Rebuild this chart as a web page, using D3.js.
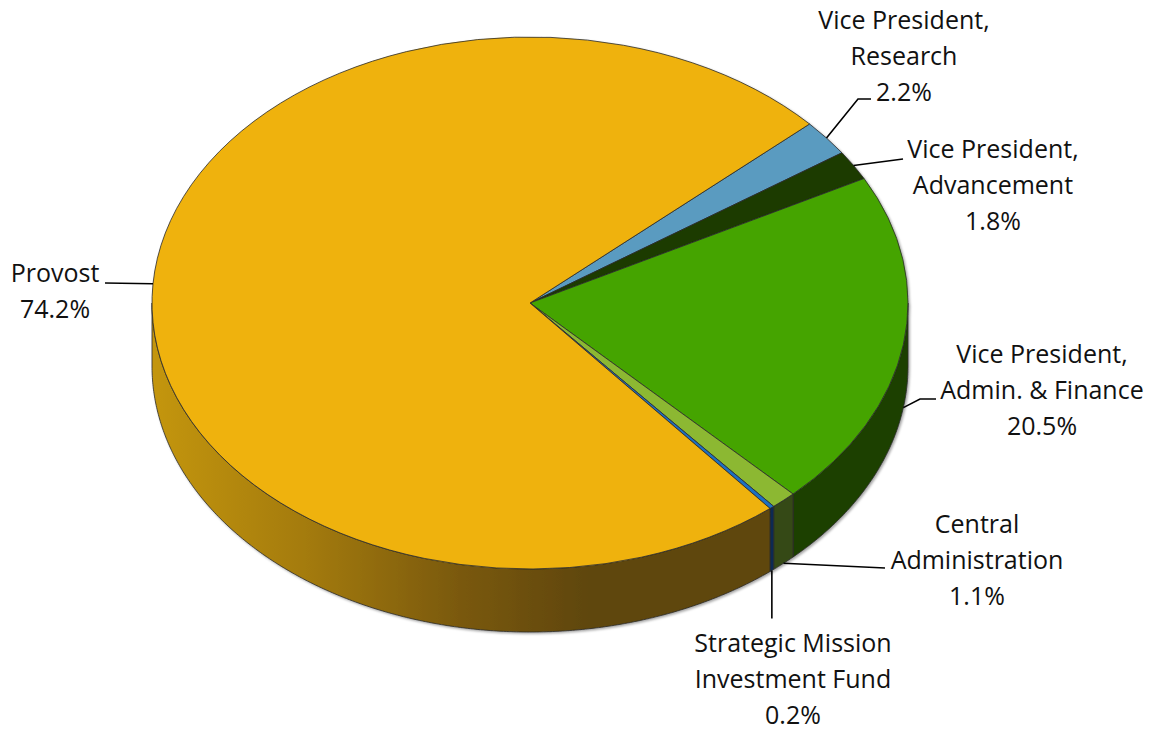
<!DOCTYPE html>
<html>
<head>
<meta charset="utf-8">
<script src="https://cdn.jsdelivr.net/npm/d3@7"></script>
<style>
  html, body { margin: 0; padding: 0; background: #ffffff; }
  svg { display: block; }
  text { font-family: "Open Sans", "Noto Sans", sans-serif; fill: #111; }
</style>
</head>
<body>
<svg id="chart" width="1158" height="730"></svg>
<script>
// Budget allocation by division, in percent, listed clockwise from the first slice
const categories = [
  ["Vice President,", "Research"],
  ["Vice President,", "Advancement"],
  ["Vice President,", "Admin. & Finance"],
  ["Central", "Administration"],
  ["Strategic Mission", "Investment Fund"],
  ["Provost"]
];
const shares = [2.2, 1.8, 20.5, 1.1, 0.2, 74.2];

// Slice fills for the top face and the outer rim
const topColors  = ["#5a9bc0", "#1b3a03", "#45a400", "#8cb832", "#1f6fc2", "#efb210"];
const wallColors = ["#3d6f8a", "#142c02", "#1c4000", "#344a18", "#0b2a52", "url(#rimGold)"];

// Label placement: centre x of the text block, first baseline, and leader waypoints
const labelLayout = [
  { x: 904,  y: 29,  leader: [[858, 99], [871, 99]] },
  { x: 993,  y: 158, leader: [[903, 159]] },
  { x: 1042, y: 363, leader: [[920, 399], [936, 399]] },
  { x: 977,  y: 533, leader: [[885, 568]] },
  { x: 793,  y: 652, leader: "down" },
  { x: 55,   y: 282, leader: [[105, 283]] }
];

const svg = d3.select("#chart");

// Tilted disc geometry
const cx = 530, cy = 303, rx = 378, ry = 266, depth = 63;
const startAngle = 47.7 * Math.PI / 180;
const lineH = 36;

const pie = d3.pie().sort(null).value(d => d)
  .startAngle(startAngle).endAngle(startAngle + 2 * Math.PI);
const arcs = pie(shares);

const pt = (a, dy = 0) => [cx + rx * Math.sin(a), cy - ry * Math.cos(a) + dy];

const defs = svg.append("defs");
const grad = defs.append("linearGradient")
  .attr("id", "rimGold").attr("gradientUnits", "userSpaceOnUse")
  .attr("x1", cx - rx).attr("x2", cx + 60).attr("y1", 0).attr("y2", 0);
grad.append("stop").attr("offset", 0).attr("stop-color", "#c4960f");
grad.append("stop").attr("offset", 0.35).attr("stop-color", "#a47b0b");
grad.append("stop").attr("offset", 0.7).attr("stop-color", "#7a5908");
grad.append("stop").attr("offset", 1).attr("stop-color", "#5f4607");

const shadow = defs.append("filter").attr("id", "soft")
  .attr("x", "-5%").attr("y", "-5%").attr("width", "110%").attr("height", "110%");
shadow.append("feDropShadow").attr("dx", 1.5).attr("dy", 1.5)
  .attr("stdDeviation", 1.2).attr("flood-color", "#000").attr("flood-opacity", 0.35);

const pieG = svg.append("g").attr("filter", "url(#soft)");

// Outer rim: only the part of each slice that faces the viewer
function wallPath(lo, hi) {
  const n = Math.max(2, Math.ceil((hi - lo) / (Math.PI / 360)));
  const top = d3.range(n + 1).map(i => pt(lo + (hi - lo) * i / n));
  const bot = d3.range(n + 1).map(i => pt(hi - (hi - lo) * i / n, depth));
  return "M" + top.concat(bot).map(p => p[0].toFixed(2) + "," + p[1].toFixed(2)).join("L") + "Z";
}

arcs.forEach((d, i) => {
  for (let k = -1; k <= 1; k++) {
    const lo = Math.max(d.startAngle, Math.PI / 2 + 2 * Math.PI * k);
    const hi = Math.min(d.endAngle, 3 * Math.PI / 2 + 2 * Math.PI * k);
    if (hi > lo) {
      pieG.append("path")
        .attr("d", wallPath(lo, hi))
        .attr("fill", wallColors[i])
        .attr("stroke", "#2b2b2b").attr("stroke-width", 0.8)
        .attr("stroke-linejoin", "round");
    }
  }
});

// Top faces
arcs.forEach((d, i) => {
  const p0 = pt(d.startAngle), p1 = pt(d.endAngle);
  const large = (d.endAngle - d.startAngle) > Math.PI ? 1 : 0;
  pieG.append("path")
    .attr("d", `M${cx},${cy}L${p0[0]},${p0[1]}A${rx},${ry} 0 ${large} 1 ${p1[0]},${p1[1]}Z`)
    .attr("fill", topColors[i])
    .attr("stroke", "#2b2b2b").attr("stroke-width", 0.8)
    .attr("stroke-linejoin", "round");
});

// Leader lines and labels
const labelG = svg.append("g");
arcs.forEach((d, i) => {
  const mid = (d.startAngle + d.endAngle) / 2;
  const front = Math.cos(mid) < 0;
  const anchor = pt(mid, front ? depth : 0);
  const lay = labelLayout[i];
  const pts = lay.leader === "down"
    ? [anchor, [anchor[0], anchor[1] + 48]]
    : [anchor].concat(lay.leader);
  labelG.append("path")
    .attr("d", d3.line()(pts))
    .attr("fill", "none").attr("stroke", "#000").attr("stroke-width", 1.6);

  const lines = categories[i].concat([shares[i].toFixed(1) + "%"]);
  const t = labelG.append("text")
    .attr("text-anchor", "middle")
    .attr("font-size", 25);
  lines.forEach((s, j) => {
    t.append("tspan").attr("x", lay.x).attr("y", lay.y + j * lineH).text(s);
  });
});
</script>
</body>
</html>
